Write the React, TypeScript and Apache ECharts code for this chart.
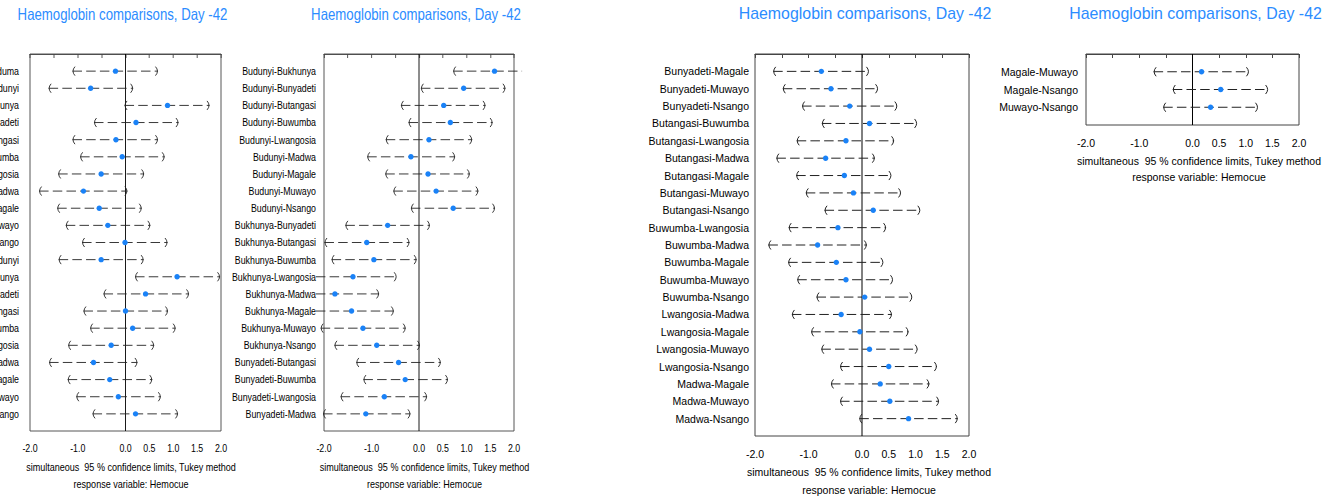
import React, { useEffect, useRef } from 'react';
import * as echarts from 'echarts';

const TITLE = 'Haemoglobin comparisons, Day -42';
const FOOT1 = 'simultaneous  95 % confidence limits, Tukey method';
const FOOT2 = 'response variable: Hemocue';
const X_TICKS_HIDDEN = [-1.5, -0.5];

const names1 = [
  'Bubale-Buduma', 'Bubale-Budunyi', 'Bubale-Bukhunya', 'Bubale-Bunyadeti', 'Bubale-Butangasi',
  'Bubale-Buwumba', 'Bubale-Lwangosia', 'Bubale-Madwa', 'Bubale-Magale', 'Bubale-Muwayo',
  'Bubale-Nsango', 'Buduma-Budunyi', 'Buduma-Bukhunya', 'Buduma-Bunyadeti', 'Buduma-Butangasi',
  'Buduma-Buwumba', 'Buduma-Lwangosia', 'Buduma-Madwa', 'Buduma-Magale', 'Buduma-Muwayo',
  'Buduma-Nsango',
];
const lower1 = [-1.11, -1.61, -0.02, -0.66, -1.11, -0.95, -1.41, -1.81, -1.43, -1.25, -0.91, -1.40, 0.20, -0.46, -0.88, -0.74, -1.20, -1.60, -1.21, -1.03, -0.69];
const est1 = [-0.21, -0.73, 0.88, 0.22, -0.20, -0.07, -0.51, -0.88, -0.55, -0.37, -0.01, -0.51, 1.08, 0.42, 0.00, 0.15, -0.30, -0.67, -0.33, -0.15, 0.21];
const upper1 = [0.68, 0.16, 1.76, 1.11, 0.68, 0.82, 0.39, 0.04, 0.34, 0.52, 0.88, 0.38, 1.98, 1.33, 0.89, 1.05, 0.60, 0.25, 0.56, 0.74, 1.10];

const names2 = [
  'Budunyi-Bukhunya', 'Budunyi-Bunyadeti', 'Budunyi-Butangasi', 'Budunyi-Buwumba', 'Budunyi-Lwangosia',
  'Budunyi-Madwa', 'Budunyi-Magale', 'Budunyi-Muwayo', 'Budunyi-Nsango', 'Bukhunya-Bunyadeti',
  'Bukhunya-Butangasi', 'Bukhunya-Buwumba', 'Bukhunya-Lwangosia', 'Bukhunya-Madwa', 'Bukhunya-Magale',
  'Bukhunya-Muwayo', 'Bukhunya-Nsango', 'Bunyadeti-Butangasi', 'Bunyadeti-Buwumba', 'Bunyadeti-Lwangosia',
  'Bunyadeti-Madwa',
];
const lower2 = [0.72, 0.04, -0.38, -0.22, -0.70, -1.09, -0.71, -0.54, -0.17, -1.55, -1.99, -1.84, -2.31, -2.70, -2.31, -2.07, -1.78, -1.32, -1.17, -1.65, -2.02];
const est2 = [1.59, 0.94, 0.52, 0.66, 0.21, -0.17, 0.19, 0.36, 0.72, -0.66, -1.10, -0.95, -1.39, -1.77, -1.42, -1.18, -0.89, -0.43, -0.29, -0.73, -1.12];
const upper2 = [2.47, 1.82, 1.40, 1.55, 1.12, 0.76, 1.07, 1.25, 1.60, 0.23, -0.20, -0.05, -0.47, -0.84, -0.53, -0.28, 0.02, 0.46, 0.61, 0.17, -0.18];

const names3 = [
  'Bunyadeti-Magale', 'Bunyadeti-Muwayo', 'Bunyadeti-Nsango', 'Butangasi-Buwumba', 'Butangasi-Lwangosia',
  'Butangasi-Madwa', 'Butangasi-Magale', 'Butangasi-Muwayo', 'Butangasi-Nsango', 'Buwumba-Lwangosia',
  'Buwumba-Madwa', 'Buwumba-Magale', 'Buwumba-Muwayo', 'Buwumba-Nsango', 'Lwangosia-Madwa',
  'Lwangosia-Magale', 'Lwangosia-Muwayo', 'Lwangosia-Nsango', 'Madwa-Magale', 'Madwa-Muwayo',
  'Madwa-Nsango',
];
const lower3 = [-1.66, -1.48, -1.12, -0.75, -1.22, -1.60, -1.23, -1.05, -0.70, -1.37, -1.75, -1.38, -1.21, -0.85, -1.31, -0.95, -0.76, -0.41, -0.58, -0.41, -0.05];
const est3 = [-0.76, -0.58, -0.23, 0.14, -0.30, -0.68, -0.33, -0.16, 0.21, -0.45, -0.83, -0.48, -0.30, 0.05, -0.39, -0.04, 0.14, 0.50, 0.34, 0.52, 0.87];
const upper3 = [0.13, 0.30, 0.66, 1.03, 0.60, 0.24, 0.55, 0.73, 1.09, 0.45, 0.09, 0.40, 0.58, 0.94, 0.56, 0.87, 1.04, 1.40, 1.26, 1.44, 1.79];

const names4 = ['Magale-Muwayo', 'Magale-Nsango', 'Muwayo-Nsango'];
const lower4 = [-0.73, -0.37, -0.55];
const est4 = [0.17, 0.53, 0.34];
const upper4 = [1.06, 1.42, 1.23];

const FONT = '"Liberation Sans", Arial, Helvetica, sans-serif';

const PANELS = [
  { names: names1, lo: lower1, est: est1, hi: upper1 },
  { names: names2, lo: lower2, est: est2, hi: upper2 },
  { names: names3, lo: lower3, est: est3, hi: upper3 },
  { names: names4, lo: lower4, est: est4, hi: upper4 },
];

// layout in page pixels
const LAYOUT = [
  { left: 30, top: 54, width: 191, height: 377, size: 11, footSize: 11.3, yMargin: 11, titleX: 122.5, titleSize: 16.5, footX: 131, footY: [466.7, 484.3] },
  { left: 324, top: 54, width: 190, height: 377, size: 11, footSize: 11.3, yMargin: 8, titleX: 416, titleSize: 16.5, footX: 424.5, footY: [466.7, 484.3] },
  { left: 755, top: 54, width: 214, height: 382, size: 10.5, footSize: 10.5, yMargin: 6, titleX: 865, titleSize: 15.9, footX: 869, footY: [472.3, 490] },
  { left: 1086, top: 54, width: 213, height: 71, size: 10.5, footSize: 10.5, yMargin: 8, titleX: 1195.5, titleSize: 15.9, footX: 1199, footY: [161, 177] },
];

const SCALE_A = 0.8; // horizontal compression of the two left panels
const CAP = 2.17;
const LINE = '#222';
const DOT = '#1a82f7';

function makeRenderItem(sx: number) {
  return function renderItem(params: any, api: any) {
    const lo = api.value(0);
    const est = api.value(1);
    const hi = api.value(2);
    const row = api.value(3);
    const y = api.coord([0, row])[1];
    const xl = api.coord([Math.max(lo, -CAP), row])[0];
    const xr = api.coord([Math.min(hi, CAP), row])[0];
    const xe = api.coord([est, row])[0];
    const bw = 2.5 / sx;
    const bc = 1.5 / sx;
    const children: any[] = [
      { type: 'line', shape: { x1: xl, y1: y, x2: xr, y2: y }, style: { stroke: LINE, lineWidth: 1, lineDash: [9.5 / sx, 4.2 / sx] } },
    ];
    if (lo >= -CAP) {
      children.push({ type: 'bezierCurve', shape: { x1: xl + bw, y1: y - 4.5, cpx1: xl - bc, cpy1: y, x2: xl + bw, y2: y + 4.5 }, style: { stroke: LINE, fill: null, lineWidth: 1 } });
    }
    if (hi <= CAP) {
      children.push({ type: 'bezierCurve', shape: { x1: xr - bw, y1: y - 4.5, cpx1: xr + bc, cpy1: y, x2: xr - bw, y2: y + 4.5 }, style: { stroke: LINE, fill: null, lineWidth: 1 } });
    }
    children.push({ type: 'ellipse', shape: { cx: xe, cy: y, rx: 2.7 / sx, ry: 2.7 }, style: { fill: DOT } });
    return { type: 'group', children };
  };
}

function buildOption(indices: number[], sx: number) {
  const grid: any[] = [];
  const xAxis: any[] = [];
  const yAxis: any[] = [];
  const series: any[] = [];
  const graphic: any[] = [];
  const renderItem = makeRenderItem(sx);
  indices.forEach((pi, i) => {
    const p = PANELS[pi];
    const L = LAYOUT[pi];
    const n = p.names.length;
    grid.push({
      left: L.left / sx, top: L.top, width: L.width / sx, height: L.height,
      show: true, borderColor: '#444', borderWidth: 1, containLabel: false, outerBoundsMode: 'none',
    });
    xAxis.push({
      type: 'value', gridIndex: i, min: -2, max: 2, interval: 0.5,
      axisLine: { show: true, lineStyle: { color: '#444', width: 1 } },
      axisTick: { show: true, inside: false, length: 4, lineStyle: { color: '#444' } },
      splitLine: { show: false },
      axisLabel: {
        show: true, margin: 12, color: '#000', fontSize: L.size, fontFamily: FONT,
        showMinLabel: true, showMaxLabel: true, hideOverlap: false,
        formatter: (v: number) => (X_TICKS_HIDDEN.some((h) => Math.abs(h - v) < 1e-9) ? '' : v.toFixed(1)),
      },
    });
    yAxis.push({
      type: 'value', gridIndex: i, min: 0, max: n + 1, interval: 1, inverse: true,
      axisLine: { show: false }, axisTick: { show: false }, splitLine: { show: false },
      axisLabel: {
        show: true, margin: L.yMargin / sx, color: '#000', fontSize: L.size, fontFamily: FONT, hideOverlap: false,
        formatter: (v: number) => p.names[Math.round(v) - 1] ?? '',
      },
    });
    series.push({
      type: 'line', xAxisIndex: i, yAxisIndex: i, data: [[0, 0], [0, n + 1]],
      symbol: 'none', silent: true, lineStyle: { color: '#000', width: 1 }, z: 1,
    });
    series.push({
      type: 'custom', xAxisIndex: i, yAxisIndex: i, clip: false, z: 2,
      renderItem,
      encode: { x: [0, 1, 2], y: 3 },
      data: p.names.map((_, k) => [p.lo[k], p.est[k], p.hi[k], k + 1]),
    });
    graphic.push({
      type: 'text', x: L.titleX / sx, y: 13.5,
      style: { text: TITLE, fill: '#2b8cff', fontSize: L.titleSize, fontFamily: FONT, align: 'center', verticalAlign: 'middle', textAlign: 'center', textVerticalAlign: 'middle' },
    });
    [FOOT1, FOOT2].forEach((t, k) => {
      graphic.push({
        type: 'text', x: L.footX / sx, y: L.footY[k],
        style: { text: t, fill: '#000', fontSize: L.footSize, fontFamily: FONT, align: 'center', verticalAlign: 'middle', textAlign: 'center', textVerticalAlign: 'middle' },
      });
    });
  });
  return { animation: false, backgroundColor: 'transparent', grid, xAxis, yAxis, series, graphic };
}

export default function App() {
  const refA = useRef<HTMLDivElement>(null);
  const refB = useRef<HTMLDivElement>(null);
  useEffect(() => {
    const chartB = echarts.init(refB.current!, null, { renderer: 'svg' });
    chartB.setOption(buildOption([2, 3], 1) as any);
    const chartA = echarts.init(refA.current!, null, { renderer: 'svg' });
    chartA.setOption(buildOption([0, 1], SCALE_A) as any);
    return () => {
      chartA.dispose();
      chartB.dispose();
    };
  }, []);
  return (
    <div style={{ position: 'absolute', left: 0, top: 0, width: 1326, height: 498, background: '#fff', overflow: 'hidden' }}>
      <div ref={refB} style={{ position: 'absolute', left: 0, top: 0, width: 1326, height: 498 }} />
      <div
        ref={refA}
        style={{ position: 'absolute', left: 0, top: 0, width: 560 / SCALE_A, height: 498, transform: `scaleX(${SCALE_A})`, transformOrigin: '0 0' }}
      />
    </div>
  );
}
